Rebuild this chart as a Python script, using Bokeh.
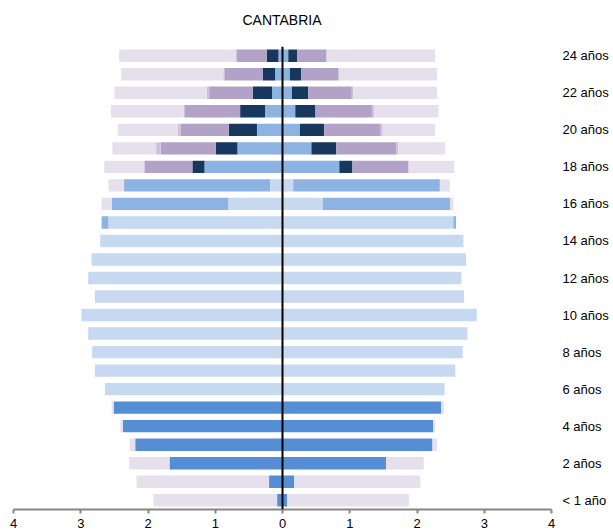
import numpy as np
from bokeh.plotting import figure
from bokeh.models import ColumnDataSource, FixedTicker, Span, Div
from bokeh.layouts import column
from bokeh.embed import file_html
from bokeh.resources import INLINE

title_text = "CANTABRIA"
ages = list(range(25))
age_labels = {0: "< 1 año"}
for a in range(2, 25, 2):
    age_labels[a] = f"{a} años"

categories = ["Educación infantil", "Primaria / ESO", "Bachillerato / FP", "FP superior",
              "Universidad", "Otros", "No estudia"]
colors = ["#558ed5", "#c6d9f1", "#8db3e2", "#17375e", "#b3a2c7", "#ccc1da", "#e6e0ec"]

# Hombres (left side), per age: values per category (in the order of `categories`)
hombres = [
    [0.08, 0, 0, 0, 0, 0, 1.84],
    [0.20, 0, 0, 0, 0, 0, 1.97],
    [1.68, 0, 0, 0, 0, 0, 0.60],
    [2.19, 0, 0, 0, 0, 0, 0.08],
    [2.375, 0, 0, 0, 0, 0, 0.035],
    [2.51, 0, 0, 0, 0, 0, 0.03],
    [0, 2.64, 0, 0, 0, 0, 0],
    [0, 2.79, 0, 0, 0, 0, 0],
    [0, 2.83, 0, 0, 0, 0, 0],
    [0, 2.89, 0, 0, 0, 0, 0],
    [0, 2.99, 0, 0, 0, 0, 0],
    [0, 2.79, 0, 0, 0, 0, 0],
    [0, 2.89, 0, 0, 0, 0, 0],
    [0, 2.84, 0, 0, 0, 0, 0],
    [0, 2.71, 0, 0, 0, 0, 0],
    [0, 2.59, 0.10, 0, 0, 0, 0],
    [0, 0.81, 1.73, 0, 0, 0, 0.15],
    [0, 0.186, 2.17, 0, 0, 0, 0.23],
    [0, 0, 1.16, 0.18, 0.71, 0.01, 0.59],
    [0, 0, 0.67, 0.32, 0.82, 0.07, 0.65],
    [0, 0, 0.38, 0.42, 0.71, 0.05, 0.89],
    [0, 0, 0.26, 0.37, 0.82, 0.02, 1.08],
    [0, 0, 0.156, 0.284, 0.65, 0.036, 1.374],
    [0, 0, 0.11, 0.18, 0.565, 0.025, 1.52],
    [0, 0, 0.06, 0.175, 0.445, 0.02, 1.73],
]

# Mujeres (right side)
mujeres = [
    [0.07, 0, 0, 0, 0, 0, 1.81],
    [0.175, 0, 0, 0, 0, 0, 1.875],
    [1.54, 0, 0, 0, 0, 0, 0.56],
    [2.23, 0, 0, 0, 0, 0, 0.07],
    [2.24, 0, 0, 0, 0, 0, 0.03],
    [2.36, 0, 0, 0, 0, 0, 0.04],
    [0, 2.41, 0, 0, 0, 0, 0],
    [0, 2.57, 0, 0, 0, 0, 0],
    [0, 2.68, 0, 0, 0, 0, 0],
    [0, 2.75, 0, 0, 0, 0, 0],
    [0, 2.89, 0, 0, 0, 0, 0],
    [0, 2.70, 0, 0, 0, 0, 0],
    [0, 2.66, 0, 0, 0, 0, 0],
    [0, 2.73, 0, 0, 0, 0, 0],
    [0, 2.69, 0, 0, 0, 0, 0],
    [0, 2.54, 0.04, 0, 0, 0, 0],
    [0, 0.60, 1.89, 0, 0, 0, 0.05],
    [0, 0.16, 2.18, 0, 0, 0, 0.15],
    [0, 0, 0.845, 0.195, 0.835, 0, 0.675],
    [0, 0, 0.43, 0.37, 0.89, 0.03, 0.70],
    [0, 0, 0.26, 0.36, 0.84, 0.03, 0.78],
    [0, 0, 0.19, 0.30, 0.84, 0.03, 0.96],
    [0, 0, 0.14, 0.24, 0.65, 0.02, 1.25],
    [0, 0, 0.11, 0.165, 0.555, 0.02, 1.45],
    [0, 0, 0.086, 0.134, 0.43, 0.01, 1.61],
]

x_ticks = [-4, -3, -2, -1, 0, 1, 2, 3, 4]

p = figure(frame_width=538, frame_height=463, x_range=(-4, 4), y_range=(-0.5, 24.5),
           output_backend="svg", toolbar_location=None, y_axis_location="right",
           min_border_left=13, min_border_right=60, min_border_top=18, min_border_bottom=23)

H = np.array(hombres)
M = np.array(mujeres)
ys = np.array(ages)
bar_h = 0.67

for side, arr, sign in (("h", H, -1), ("m", M, 1)):
    cum = np.cumsum(arr, axis=1)
    start = cum - arr
    for j, cat in enumerate(categories):
        mask = arr[:, j] > 0
        a = sign * start[mask, j]
        b = sign * cum[mask, j]
        src = ColumnDataSource(dict(y=ys[mask], left=np.minimum(a, b), right=np.maximum(a, b)))
        p.hbar(y="y", left="left", right="right", height=bar_h, source=src,
               fill_color=colors[j], line_color=None)

p.add_layout(Span(location=0, dimension="height", line_color="black", line_width=2))

p.xgrid.visible = False
p.ygrid.visible = False
p.outline_line_color = None

xa = p.xaxis[0]
xa.ticker = FixedTicker(ticks=x_ticks)
xa.major_label_overrides = {t: str(abs(t)) for t in x_ticks}
xa.axis_line_color = "#868686"
xa.axis_line_width = 2
xa.major_tick_line_color = "#868686"
xa.major_tick_line_width = 2
xa.major_tick_in = 0
xa.major_tick_out = 4
xa.minor_tick_line_color = None
xa.major_label_text_font = "Liberation Sans"
xa.major_label_text_font_size = "13px"
xa.major_label_text_color = "#000000"
xa.major_label_standoff = 5

ya = p.yaxis[0]
ya.ticker = FixedTicker(ticks=list(age_labels.keys()))
ya.major_label_overrides = age_labels
ya.axis_line_color = None
ya.major_tick_line_color = None
ya.minor_tick_line_color = None
ya.major_label_standoff = 5
ya.major_label_text_font = "Liberation Sans"
ya.major_label_text_font_size = "13px"
ya.major_label_text_color = "#000000"

title_div = Div(text=title_text, width=564, height=28, margin=(0, 0, 0, 0),
                styles={"text-align": "center", "font-family": "Liberation Sans, Arial, sans-serif",
                        "font-size": "14px", "color": "#000000", "padding-top": "12px",
                        "line-height": "16px"})

layout = column(title_div, p, spacing=0)

open("out.html", "w").write(file_html(layout, INLINE))
